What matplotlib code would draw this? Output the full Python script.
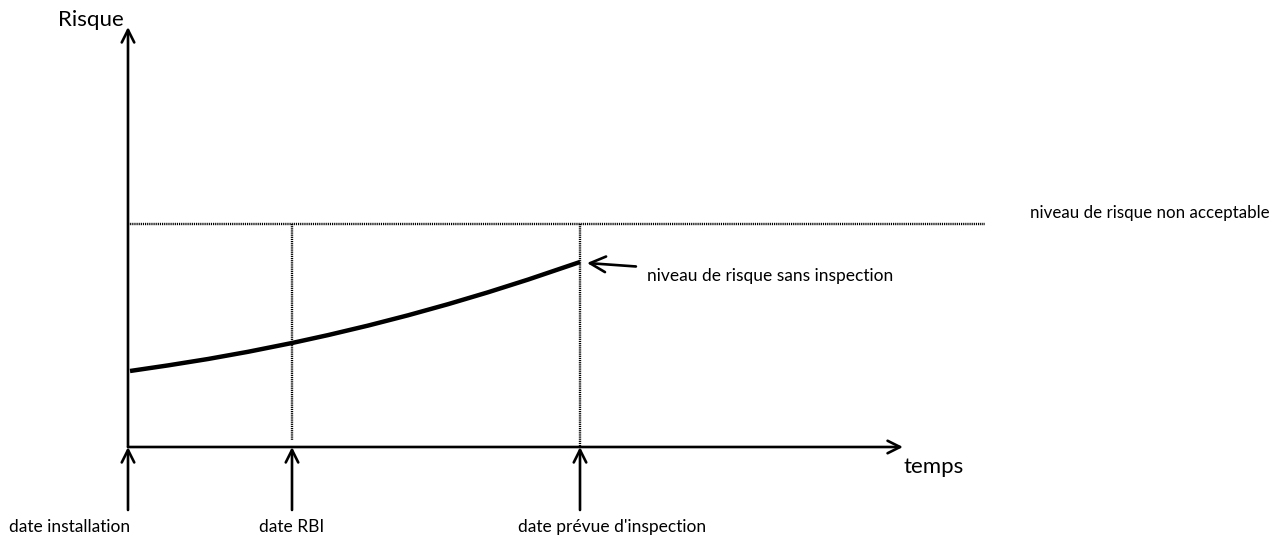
import matplotlib.pyplot as plt
import numpy as np

plt.rcParams['font.family'] = ['Lato', 'DejaVu Sans']

# dates on the time axis (arbitrary units from installation)
date_labels = ['date installation', 'date RBI', "date prévue d'inspection"]
date_values = [0, 164, 452]

# risk level without inspection
time_pts = [2, 40, 80, 120, 164, 200, 240, 280, 320, 360, 400, 452]
risk_pts = [76, 81.6, 88.0, 95.2, 104, 111.9, 121.4, 131.7, 142.8, 154.7, 167.4, 185]

# unacceptable risk threshold
seuil = 223

fig = plt.figure(figsize=(12.87, 5.35), dpi=100)
ax = fig.add_axes([0, 0, 1, 1])
ax.set_xlim(-128, 1159)
ax.set_ylim(-88, 447)
ax.axis('off')

lw_axis = 1.9
head = dict(arrowstyle='->,head_length=0.9,head_width=0.45', lw=lw_axis, color='black',
            shrinkA=0, shrinkB=0)
dots = (0, (0.5, 0.4))

# axes with arrows
ax.annotate('', xy=(0, 420), xytext=(0, 0), arrowprops=head)
ax.annotate('', xy=(775, 0), xytext=(0, 0), arrowprops=head)
ax.text(-4, 427, 'Risque', fontsize=16, ha='right', va='center')
ax.text(775, -20, 'temps', fontsize=16, ha='left', va='center')

# threshold line
ax.plot([0, 857], [seuil, seuil], color='black', lw=1.7, ls=dots)
ax.text(902, seuil + 11, 'niveau de risque non acceptable', fontsize=12.2, ha='left', va='center')

# vertical dotted lines at RBI date and planned inspection
ax.plot([date_values[1]] * 2, [seuil, 7], color='black', lw=1.7, ls=dots)
ax.plot([date_values[2]] * 2, [seuil, 0], color='black', lw=1.7, ls=dots)

# risk curve
ax.plot(time_pts, risk_pts, color='black', lw=3.2, solid_capstyle='butt', solid_joinstyle='round')

ax.annotate('niveau de risque sans inspection', xy=(time_pts[-1] + 7, risk_pts[-1] - 1),
            xytext=(519, 171), fontsize=12.5, ha='left', va='center',
            arrowprops=dict(arrowstyle='->,head_length=0.9,head_width=0.45', lw=lw_axis,
                            color='black', shrinkA=6, shrinkB=0))

# date arrows and labels under the axis
label_x = [2, 164, 390]
label_ha = ['right', 'center', 'left']
for lab, d, lx, ha in zip(date_labels, date_values, label_x, label_ha):
    ax.annotate('', xy=(d, 0), xytext=(d, -63), arrowprops=head)
    ax.text(lx, -80, lab, fontsize=12.5, ha=ha, va='center')

fig.savefig('out.png', dpi=100)
